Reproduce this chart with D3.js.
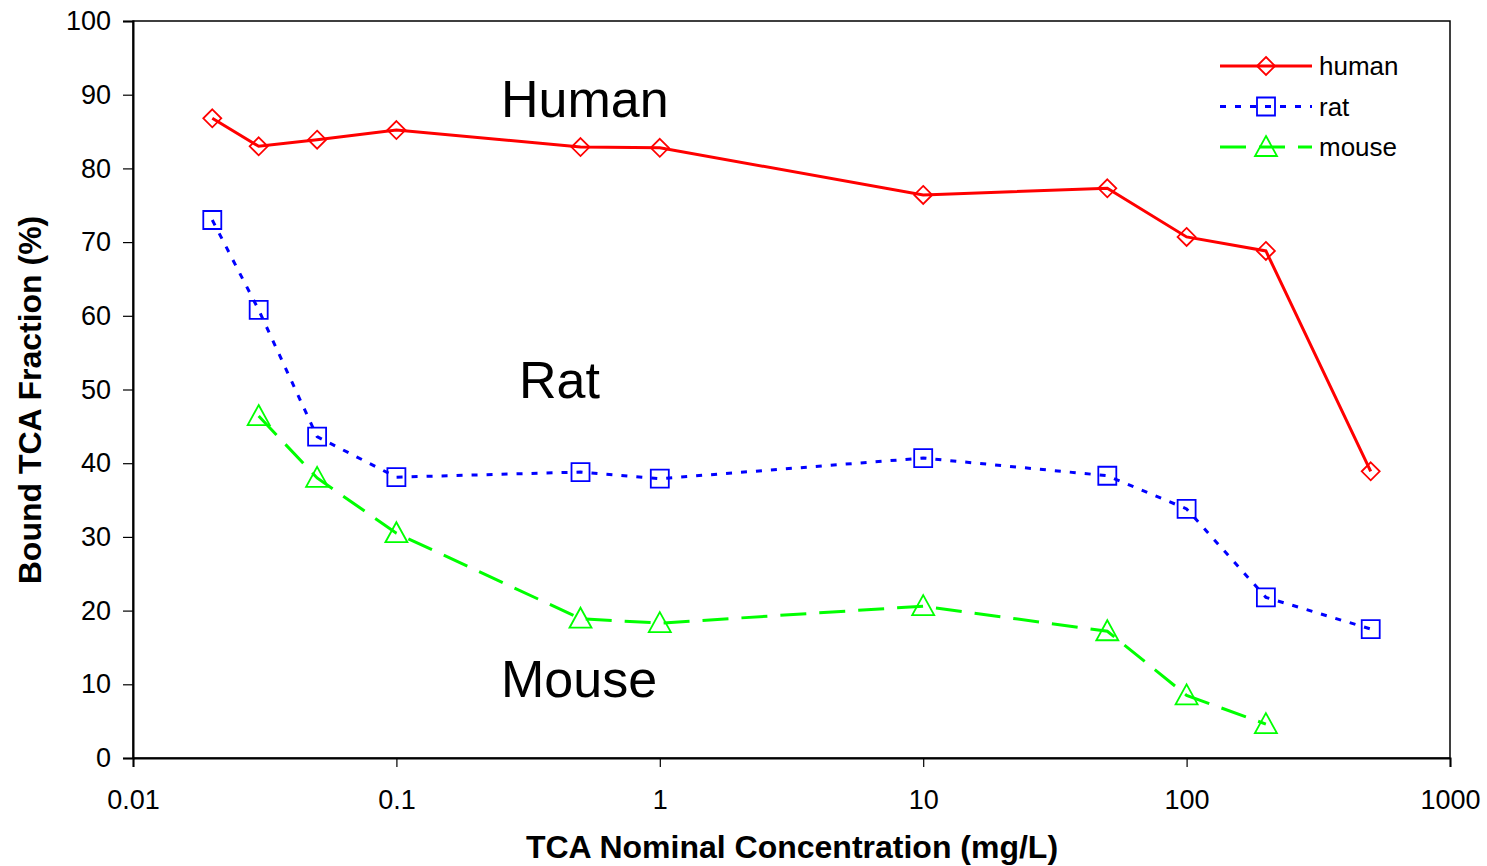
<!DOCTYPE html>
<html>
<head>
<meta charset="utf-8">
<script src="https://cdn.jsdelivr.net/npm/d3@7"></script>
<style>
  body { margin: 0; background: #fff; }
  svg text { font-family: "Liberation Sans", Arial, sans-serif; }
</style>
</head>
<body>
<div id="chart"></div>
<script>
const conc = [0.02, 0.03, 0.05, 0.1, 0.5, 1, 10, 50, 100, 200, 500];
const human = [86.8, 83.0, 83.9, 85.2, 82.9, 82.8, 76.4, 77.3, 70.7, 68.8, 38.9];
const rat = [73.0, 60.8, 43.6, 38.1, 38.8, 37.9, 40.7, 38.3, 33.8, 21.8, 17.5];
const mouse = [null, 46.4, 38.0, 30.5, 18.9, 18.3, 20.6, 17.2, 8.5, 4.6, null];
const xTicks = [0.01, 0.1, 1, 10, 100, 1000];
const xTickLabels = ["0.01", "0.1", "1", "10", "100", "1000"];
const yTicks = [0, 10, 20, 30, 40, 50, 60, 70, 80, 90, 100];

window.onload = function () {
    const W = 1487, H = 866;
    const margin = { top: 21, right: 37, bottom: 108, left: 133 };
    const width = W - margin.left - margin.right;
    const height = H - margin.top - margin.bottom;

    const svg = d3.select("#chart").append("svg")
        .attr("width", W).attr("height", H);
    const g = svg.append("g")
        .attr("transform", "translate(" + margin.left + "," + margin.top + ")");

    const x = d3.scaleLog().domain([0.01, 1000]).range([0, width]);
    const y = d3.scaleLinear().domain([0, 100]).range([height, 0]);

    // frame
    g.append("rect").attr("width", width).attr("height", height)
        .attr("fill", "none").attr("stroke", "#000").attr("stroke-width", 1.5);

    const xAxis = g.append("g").attr("transform", "translate(0," + height + ")")
        .call(d3.axisBottom(x).tickValues(xTicks)
            .tickFormat((d, i) => xTickLabels[i]).tickSize(9).tickPadding(23));
    const yAxis = g.append("g")
        .call(d3.axisLeft(y).tickValues(yTicks).tickSize(10).tickPadding(12));
    [xAxis, yAxis].forEach(a => {
        a.select(".domain").attr("stroke-width", 2);
        a.selectAll(".tick line").attr("stroke-width", 1.2);
        a.selectAll("text").attr("font-size", 27).attr("fill", "#000")
            .style("font-family", "Liberation Sans, Arial, sans-serif");
    });

    svg.append("text").attr("x", 792).attr("y", 858).attr("text-anchor", "middle")
        .attr("font-size", 32).attr("font-weight", "bold").text("TCA Nominal Concentration (mg/L)");
    svg.append("text").attr("transform", "translate(41,400) rotate(-90)")
        .attr("text-anchor", "middle").attr("font-size", 32).attr("font-weight", "bold")
        .text("Bound TCA Fraction (%)");

    const series = [
        { name: "human", values: human, color: "#ff0000", dash: null, marker: "diamond" },
        { name: "rat", values: rat, color: "#0000ff", dash: "6,9", marker: "square" },
        { name: "mouse", values: mouse, color: "#00ff00", dash: "26,13", marker: "triangle" }
    ];

    const line = d3.line()
        .x(d => x(d.c)).y(d => y(d.v));

    function markerPath(type) {
        if (type === "diamond") return "M0,-9L9,0L0,9L-9,0Z";
        if (type === "square") return "M-9,-9H9V9H-9Z";
        return "M0,-11L11,9H-11Z";
    }

    series.forEach(s => {
        const pts = conc.map((c, i) => ({ c: c, v: s.values[i] })).filter(d => d.v != null);
        g.append("path").datum(pts).attr("d", line)
            .attr("fill", "none").attr("stroke", s.color).attr("stroke-width", 3)
            .attr("stroke-dasharray", s.dash);
        g.selectAll(".m-" + s.name).data(pts).enter().append("path")
            .attr("transform", d => "translate(" + x(d.c) + "," + y(d.v) + ")")
            .attr("d", markerPath(s.marker))
            .attr("fill", "none").attr("stroke", s.color).attr("stroke-width", 1.8);
    });

    // annotations
    const notes = [["Human", 501, 117], ["Rat", 519, 398], ["Mouse", 501, 697]];
    notes.forEach(n => {
        svg.append("text").attr("x", n[1]).attr("y", n[2])
            .attr("font-size", 52).attr("fill", "#000").text(n[0]);
    });

    // legend
    const leg = svg.append("g");
    series.forEach((s, i) => {
        const ly = 66 + i * 40.5;
        leg.append("line").attr("x1", 1220).attr("x2", 1312).attr("y1", ly).attr("y2", ly)
            .attr("stroke", s.color).attr("stroke-width", 3).attr("stroke-dasharray", s.dash);
        leg.append("path").attr("transform", "translate(1266," + ly + ")")
            .attr("d", markerPath(s.marker)).attr("fill", "none")
            .attr("stroke", s.color).attr("stroke-width", 1.8);
        leg.append("text").attr("x", 1319).attr("y", ly + 9)
            .attr("font-size", 26).attr("fill", "#000").text(s.name);
    });
};
</script>
</body>
</html>
